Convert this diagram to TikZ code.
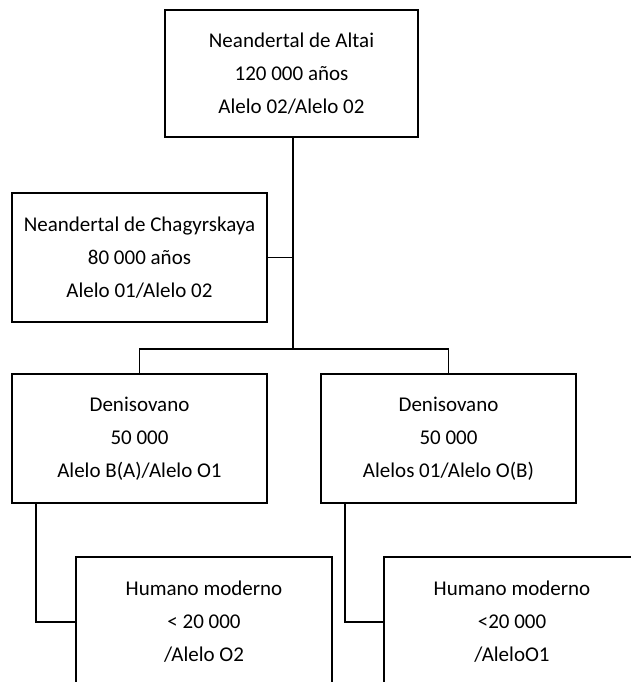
\documentclass[tikz,border=0pt]{standalone}
\usepackage{fontspec}
\setmainfont{Carlito}
\begin{document}
\begin{tikzpicture}[x=1pt,y=1pt,
  box/.style={draw=black, line width=2.2pt, fill=white, minimum width=255pt, minimum height=129pt,
    inner sep=0pt, align=center, font=\fontsize{21}{33}\selectfont, text=black},
  link/.style={draw=black, line width=1.9pt}]
\useasboundingbox (0,0) rectangle (631,-682);
\clip (0,0) rectangle (631,-682);
\fill[white] (0,0) rectangle (631,-682);
\node[box, minimum width=253pt, minimum height=127pt] (altai) at (291.5,-73.5) {Neandertal de Altai\\120 000 años\\Alelo 02/Alelo 02};
\node[box] (chag) at (139.5,-257.5) {Neandertal de Chagyrskaya\\80 000 años\\Alelo 01/Alelo 02};
\node[box] (den1) at (139.5,-438.5) {Denisovano\\50 000\\Alelo B(A)/Alelo O1};
\node[box] (den2) at (448.5,-438.5) {Denisovano\\50 000\\Alelos 01/Alelo O(B)};
\node[box, minimum width=256pt, minimum height=130pt] (hum1) at (204,-622) {Humano moderno\\< 20 000\\/Alelo O2};
\node[box, minimum width=256pt, minimum height=130pt] (hum2) at (512,-622) {Humano moderno\\<20 000\\/AleloO1};
\coordinate (j) at (293,-349);
\path[link] (altai.south -| j) -- (j);
\path[link] (chag.east) -- (chag.east -| j);
\path[link] (den1.north) |- (j) -| (den2.north);
\path[link] ([xshift=25pt]den1.south west) |- (hum1.west);
\path[link] ([xshift=25pt]den2.south west) |- (hum2.west);
\end{tikzpicture}
\end{document}
